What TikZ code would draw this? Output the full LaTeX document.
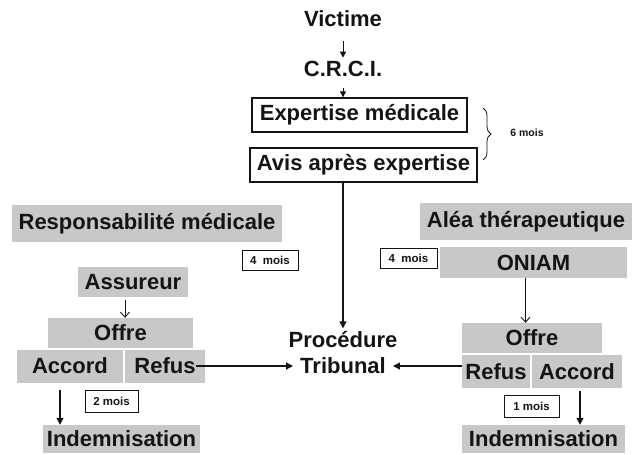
\documentclass[tikz,border=0pt]{standalone}
\usepackage{fontspec}
\setmainfont{Liberation Sans}
\usetikzlibrary{arrows.meta,calc,decorations.pathreplacing}
\definecolor{boxgray}{RGB}{200,200,200}
\definecolor{ink}{RGB}{20,20,20}
\tikzset{
  big/.style={font=\fontsize{22}{24}\selectfont\bfseries, text=ink},
  gbox/.style={big, fill=boxgray, inner sep=0pt},
  wbox/.style={big, draw=ink, line width=1.3pt, inner sep=0pt},
  tbox/.style={font=\fontsize{11.5}{12}\selectfont\bfseries, text=ink, draw=ink, line width=0.9pt, inner sep=0pt},
  tag/.style={font=\fontsize{10.5}{12}\selectfont\bfseries, text=ink},
  farr/.style={draw=ink, line width=1.2pt, -{Triangle[length=7pt,width=7pt]}},
  sarr/.style={draw=ink, line width=1pt, -{Triangle[length=6pt,width=6pt]}},
  oarr/.style={draw=ink, line width=0.9pt, -{Straight Barb[length=5pt,width=9pt]}},
}
\begin{document}
\begin{tikzpicture}[x=1pt,y=-1pt]
\useasboundingbox (0,0) rectangle (632,455);
% centre column
\node[big] (victime) at (343,19) {Victime};
\node[big] (crci) at (343,69) {C.R.C.I.};
\node[wbox, minimum width=215pt, minimum height=34pt] (exp) at (359.5,115) {Expertise médicale};
\node[wbox, minimum width=227pt, minimum height=34pt] (avis) at (363.5,165) {Avis après expertise};
\node[tag] (six) at (527,133) {6 mois};
\node[big] (proc1) at (343,340) {Procédure};
\node[big, inner xsep=7pt] (proc2) at (343,366) {Tribunal};
\coordinate (v1) at (343,41);
\coordinate (c1) at (343,88);
\draw[sarr] (v1) -- (v1 |- crci.north);
\draw[sarr] (c1) -- (c1 |- exp.north);
\draw[farr] (avis.south -| proc1.north) -- (proc1.north);
\coordinate (b1) at (483,108);
\coordinate (b2) at (483,160);
\draw[ink, line width=0.8pt, decorate, decoration={brace, amplitude=8pt}] (b1) -- (b2);
% left branch
\node[gbox, minimum width=270pt, minimum height=37pt] (resp) at (147,223.5) {Responsabilité médicale};
\node[tbox, minimum width=56pt, minimum height=20pt] (m4l) at (270,260) {4\ \ mois};
\node[gbox, minimum width=110pt, minimum height=30pt] (assur) at (133,282) {Assureur};
\node[gbox, minimum width=145pt, minimum height=30pt] (offrel) at (120.5,333) {Offre};
\node[gbox, minimum width=106pt, minimum height=33pt] (accordl) at (70,366) {Accord};
\node[gbox, minimum width=80pt, minimum height=33pt] (refusl) at (165,366) {Refus};
\node[tbox, minimum width=53pt, minimum height=22pt] (m2l) at (111.5,401) {2 mois};
\node[gbox, minimum width=157pt, minimum height=28pt] (indeml) at (121.5,439) {Indemnisation};
\draw[oarr] ($(assur.south)+(-8,3)$) coordinate (as1) -- (as1 |- offrel.north);
\draw[farr] ($(accordl.south)+(-10,7)$) coordinate (al1) -- (al1 |- indeml.north);
\draw[farr] ($(refusl.east)+(-9,0)$) -- (proc2.west);
% right branch
\node[gbox, minimum width=212pt, minimum height=37pt] (alea) at (526,221.5) {Aléa thérapeutique};
\node[gbox, minimum width=187pt, minimum height=31pt] (oniam) at (533.5,262.5) {ONIAM};
\node[tbox, minimum width=57pt, minimum height=20pt] (m4r) at (408.5,258) {4\ \ mois};
\node[gbox, minimum width=140pt, minimum height=30pt] (offrer) at (532,338) {Offre};
\node[gbox, minimum width=68pt, minimum height=33pt] (refusr) at (496,371.5) {Refus};
\node[gbox, minimum width=90pt, minimum height=33pt] (accordr) at (577,371.5) {Accord};
\node[tbox, minimum width=55pt, minimum height=22pt] (m1r) at (531.5,406) {1 mois};
\node[gbox, minimum width=163pt, minimum height=28pt] (indemr) at (543.5,439) {Indemnisation};
\draw[oarr] ($(oniam.south)+(-8,0)$) coordinate (on1) -- (on1 |- offrer.north);
\draw[farr] ($(accordr.south)+(3,3)$) coordinate (ar1) -- (ar1 |- indemr.north);
\draw[farr] (proc2.east -| refusr.west) -- (proc2.east);
% thin white separators
\draw[white, line width=1pt] (offrel.south west) -- (offrel.south east);
\draw[white, line width=1pt] (accordl.north east) -- (accordl.south east);
\draw[white, line width=1pt] (offrer.south west) -- (offrer.south east);
\draw[white, line width=1pt] (refusr.north east) -- (refusr.south east);
\end{tikzpicture}
\end{document}
